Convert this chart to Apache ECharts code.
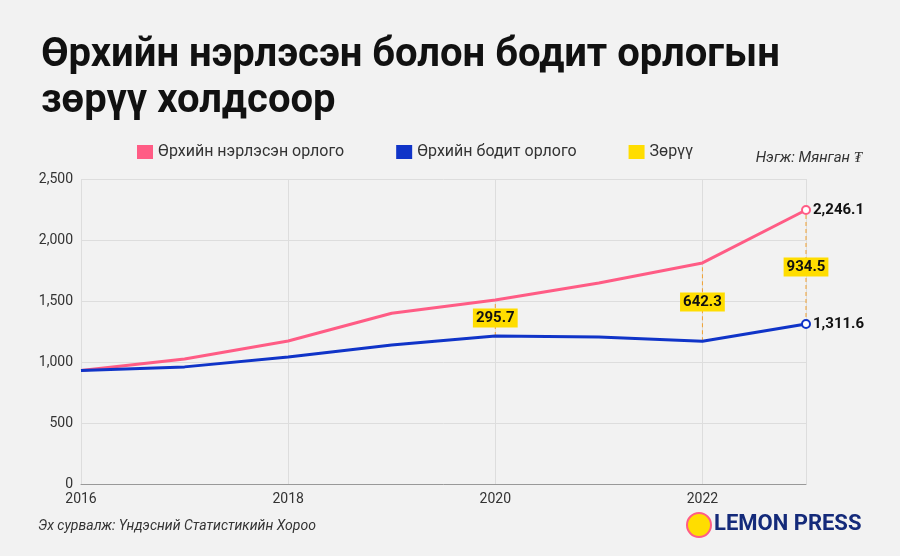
<!DOCTYPE html>
<html><head><meta charset="utf-8">
<script src="https://cdn.jsdelivr.net/npm/echarts@6/dist/echarts.min.js"></script>
<style>html,body{margin:0;background:#f2f2f2}#c{width:900px;height:556px}</style>
</head><body><div id="c"></div>
<script>
const years = [2016, 2017, 2018, 2019, 2020, 2021, 2022, 2023];
const nominal = [930, 1025, 1172, 1400, 1509, 1648, 1812, 2246.1];
const real = [930, 960, 1041, 1140, 1213, 1205, 1170, 1311.6];
const gapYears = [2020, 2022, 2023];
const gapValues = [295.7, 642.3, 934.5];
const nominalName = 'Өрхийн нэрлэсэн орлого';
const realName = 'Өрхийн бодит орлого';
const gapName = 'Зөрүү';

const chart = echarts.init(document.getElementById('c'));
const F = 'Roboto, sans-serif';
const gapData = gapYears.map((y, i) => {
  const k = years.indexOf(y);
  return [y, real[k], nominal[k], gapValues[i]];
});
const last = years.length - 1;
const fmt = p => p.value.toLocaleString('en-US', { minimumFractionDigits: 1 });
chart.setOption({
  backgroundColor: '#f2f2f2',
  textStyle: { fontFamily: F },
  title: {
    text: 'Өрхийн нэрлэсэн болон бодит орлогын\nзөрүү холдсоор',
    left: 36, top: 28,
    textStyle: { fontSize: 40, fontWeight: 'bold', color: '#111', lineHeight: 46, fontFamily: F }
  },
  legend: {
    top: 139, left: 132, itemGap: 52, itemWidth: 16, itemHeight: 14,
    icon: 'rect',
    textStyle: { fontSize: 16, color: '#333', fontFamily: F },
    data: [{ name: nominalName }, { name: realName }, { name: gapName, itemStyle: { color: '#ffdd00' } }]
  },
  grid: { left: 81, right: 94, top: 179, bottom: 72 },
  xAxis: {
    type: 'value', min: 2016, max: 2023, interval: 2,
    axisLine: { lineStyle: { color: '#999' } },
    axisTick: { show: false },
    axisLabel: { color: '#333', fontSize: 14, formatter: v => String(v), showMaxLabel: false },
    splitLine: { lineStyle: { color: '#ddd' } }
  },
  yAxis: {
    type: 'value', min: 0, max: 2500, interval: 500,
    axisLine: { show: false }, axisTick: { show: false },
    axisLabel: { color: '#333', fontSize: 14, margin: 8, formatter: v => v.toLocaleString('en-US') },
    splitLine: { lineStyle: { color: '#ddd' } }
  },
  graphic: [
    { type: 'text', right: 38, top: 151, style: { text: 'Нэгж: Мянган ₮', font: 'italic 15px Roboto', fill: '#333' } },
    { type: 'text', left: 38, top: 519, style: { text: 'Эх сурвалж: Үндэсний Статистикийн Хороо', font: 'italic 14px Roboto', fill: '#333' } },
    { type: 'circle', shape: { cx: 699, cy: 525, r: 12 }, style: { fill: '#ffdd00', stroke: '#ff5c85', lineWidth: 2 } },
    { type: 'text', left: 714, top: 513, style: { text: 'LEMON PRESS', font: 'bold 22px Roboto', fill: '#142a7a' } }
  ],
  series: [
    {
      name: nominalName, type: 'line', data: years.map((y, i) => [y, nominal[i]]),
      color: '#ff5c85', lineStyle: { width: 3 }, symbol: 'none', z: 3,
      markPoint: {
        symbol: 'circle', symbolSize: 8, itemStyle: { color: '#fff', borderColor: '#ff5c85', borderWidth: 2 },
        label: { show: true, position: 'right', distance: 2, color: '#111', fontWeight: 'bold', fontSize: 15, formatter: fmt },
        data: [{ coord: [years[last], nominal[last]], value: nominal[last] }]
      }
    },
    {
      name: realName, type: 'line', data: years.map((y, i) => [y, real[i]]),
      color: '#1034c8', lineStyle: { width: 3 }, symbol: 'none', z: 3,
      markPoint: {
        symbol: 'circle', symbolSize: 8, itemStyle: { color: '#fff', borderColor: '#1034c8', borderWidth: 2 },
        label: { show: true, position: 'right', distance: 2, color: '#111', fontWeight: 'bold', fontSize: 15, formatter: fmt },
        data: [{ coord: [years[last], real[last]], value: real[last] }]
      }
    },
    {
      name: gapName, type: 'custom', color: '#ffdd00', z: 2, data: gapData,
      renderItem: (params, api) => {
        const lo = api.coord([api.value(0), api.value(1)]);
        const hi = api.coord([api.value(0), api.value(2)]);
        const my = (lo[1] + hi[1]) / 2;
        return {
          type: 'group', children: [
            { type: 'line', shape: { x1: lo[0], y1: lo[1], x2: hi[0], y2: hi[1] }, style: { stroke: '#f0a030', lineWidth: 1, lineDash: [4, 3] } },
            { type: 'text', x: lo[0], y: my, style: { text: String(api.value(3)), font: 'bold 15px Roboto', fill: '#111', align: 'center', verticalAlign: 'middle', backgroundColor: '#ffdd00', padding: [2, 3] } }
          ]
        };
      }
    }
  ]
});
</script></body></html>
